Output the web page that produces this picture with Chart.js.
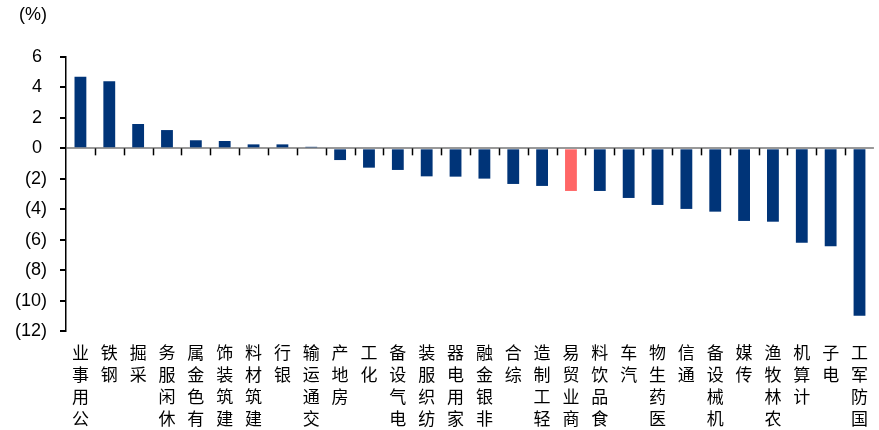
<!DOCTYPE html><html lang="zh">
<head>
  <meta charset="UTF-8" />
  <title>行业涨跌幅</title>
  <script src="https://cdn.jsdelivr.net/npm/chart.js"></script>
  <style>
    body { margin: 0; background: #fff; }
    #wrap { position: relative; width: 879px; height: 430px; }
    #unit {
      position: absolute; left: 19px; top: 4px;
      font: 18px 'Liberation Sans', Arial, sans-serif; color: #000;
    }
  </style>
</head>
<body>
  <div id="wrap">
    <div id="unit">(%)</div>
    <canvas id="chart"></canvas>
  </div>
  <script>
    const industries = ['公用事业', '钢铁', '采掘', '休闲服务', '有色金属', '建筑装饰', '建筑材料', '银行',
      '交通运输', '房地产', '化工', '电气设备', '纺织服装', '家用电器', '非银金融', '综合', '轻工制造',
      '商业贸易', '食品饮料', '汽车', '医药生物', '通信', '机械设备', '传媒', '农林牧渔', '计算机', '电子', '国防军工'];
    const changes = [4.7, 4.4, 1.6, 1.2, 0.53, 0.48, 0.26, 0.26, 0.1, -0.77, -1.27, -1.42, -1.84, -1.86,
      -1.99, -2.34, -2.47, -2.8, -2.8, -3.26, -3.72, -3.98, -4.16, -4.77, -4.82, -6.2, -6.44, -11.0];
    const highlight = '商业贸易';
    const yTicks = [-12, -10, -8, -6, -4, -2, 0, 2, 4, 6];

    const navy = '#003478';
    const red = '#ff6666';

    // labels read upward: last char sits right under the axis
    const labels = industries.map(s => s.split('').reverse());
    const colors = industries.map(s => s === highlight ? red : navy);

    // short tick marks hanging below the zero line between categories
    const zeroTicks = {
      id: 'zeroTicks',
      afterDatasetsDraw(chart) {
        const x = chart.scales.x, y = chart.scales.y, ctx = chart.ctx;
        const y0 = y.getPixelForValue(0);
        ctx.save();
        ctx.strokeStyle = '#000';
        ctx.lineWidth = 1.5;
        for (let i = 1; i < industries.length; i++) {
          const px = Math.round((x.getPixelForValue(i - 1) + x.getPixelForValue(i)) / 2) + 0.5;
          ctx.beginPath();
          ctx.moveTo(px, y0);
          ctx.lineTo(px, y0 + 7);
          ctx.stroke();
        }
        ctx.restore();
      }
    };

    new Chart(document.getElementById('chart'), {
      type: 'bar',
      data: {
        labels: labels,
        datasets: [{
          data: changes,
          backgroundColor: colors,
          barPercentage: 0.41,
          categoryPercentage: 1
        }]
      },
      plugins: [zeroTicks],
      options: {
        responsive: true,
        maintainAspectRatio: false,
        animation: false,
        layout: { padding: { top: 57, right: 0, left: 0, bottom: 0 } },
        plugins: { legend: { display: false }, tooltip: { enabled: false } },
        scales: {
          x: {
            grid: { display: false, drawTicks: false },
            border: { display: false },
            ticks: {
              autoSkip: false,
              maxRotation: 0,
              minRotation: 0,
              padding: 11,
              color: '#000',
              font: { family: "'Noto Sans CJK SC', sans-serif", size: 17, lineHeight: '22px' }
            },
            afterFit(scale) { scale.height = 99; }
          },
          y: {
            min: -12,
            max: 6,
            afterBuildTicks(scale) { scale.ticks = yTicks.map(v => ({ value: v })); },
            grid: {
              color: ctx => ctx.tick && ctx.tick.value === 0 ? '#999' : 'rgba(0,0,0,0)',
              lineWidth: 2,
              tickColor: '#000',
              tickLength: 6
            },
            border: { display: true, color: '#000', width: 1.5 },
            ticks: {
              padding: 13,
              color: '#000',
              font: { family: "'Liberation Sans', Arial, sans-serif", size: 18 },
              // positives keep a gap where ")" would be, like "0_);(0)"
              callback: v => v < 0 ? '(' + (-v) + ')' : v + '\u00a0'
            },
            afterFit(scale) { scale.width = 66; }
          }
        }
      }
    });
  </script>
</body>
</html>
